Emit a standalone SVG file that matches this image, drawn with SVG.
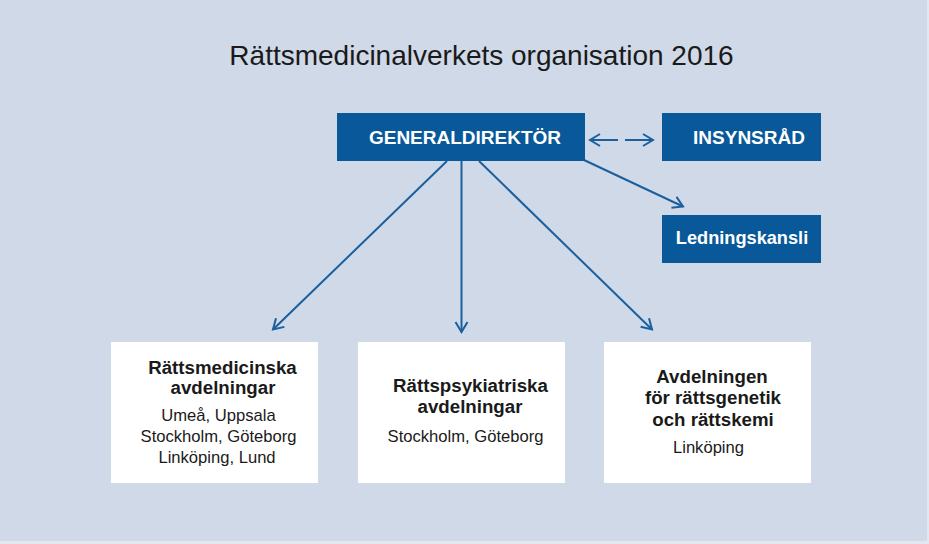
<svg xmlns="http://www.w3.org/2000/svg" width="929" height="544" viewBox="0 0 929 544">
<style>
.bg{fill:#cfd9e8}
.dark{fill:#08589a}
.white{fill:#ffffff}
.hd{font-family:"Liberation Sans",Arial,sans-serif;font-weight:bold;font-size:19px;fill:#ffffff;text-anchor:middle}
.bt{font-family:"Liberation Sans",Arial,sans-serif;font-weight:bold;font-size:18.7px;fill:#1a1a1a;text-anchor:middle}
.rt{font-family:"Liberation Sans",Arial,sans-serif;font-size:16.6px;fill:#1a1a1a;text-anchor:middle}
.title{font-family:"Liberation Sans",Arial,sans-serif;font-size:28px;fill:#1a1a1a;text-anchor:middle}
.conn{stroke:#1a5f9e;stroke-width:2;fill:none}
</style>
<defs>
<marker id="arr" viewBox="-12 -8 14 16" markerWidth="14" markerHeight="16" refX="0" refY="0" orient="auto-start-reverse" markerUnits="userSpaceOnUse">
<path d="M-10,-6 L0,0 L-10,6" fill="none" stroke="#1a5f9e" stroke-width="2"/>
</marker>
</defs>
<rect x="0" y="0" width="929" height="544" fill="#e3e8f0"/>
<rect class="bg" x="0" y="0" width="927" height="541"/>
<text class="title" x="481.5" y="65">Rättsmedicinalverkets organisation 2016</text>

<g id="connectors">
<line class="conn" x1="590" y1="140" x2="653" y2="140" stroke-dasharray="28 7" marker-start="url(#arr)" marker-end="url(#arr)"/>
<line class="conn" x1="584" y1="160" x2="683" y2="206.5" marker-end="url(#arr)"/>
<line class="conn" x1="447" y1="161" x2="273" y2="329.5" marker-end="url(#arr)"/>
<line class="conn" x1="461.5" y1="161" x2="461.5" y2="332" marker-end="url(#arr)"/>
<line class="conn" x1="479" y1="161" x2="652" y2="329.5" marker-end="url(#arr)"/>
</g>

<g id="generaldirektor">
<rect class="dark" x="337" y="113" width="248" height="48"/>
<text class="hd" x="465" y="144">GENERALDIREKTÖR</text>
</g>
<g id="insynsrad">
<rect class="dark" x="662" y="113" width="159" height="48"/>
<text class="hd" x="749" y="143.5">INSYNSRÅD</text>
</g>
<g id="ledningskansli">
<rect class="dark" x="662" y="215" width="159" height="48"/>
<text class="hd" x="742" y="243.5" style="font-size:18.2px">Ledningskansli</text>
</g>

<g id="rattsmedicinska">
<rect class="white" x="111" y="342" width="207" height="141"/>
<text class="bt" x="222.5" y="374">Rättsmedicinska</text>
<text class="bt" x="223" y="394">avdelningar</text>
<text class="rt" x="218.5" y="421">Umeå, Uppsala</text>
<text class="rt" x="218.5" y="442">Stockholm, Göteborg</text>
<text class="rt" x="217" y="463">Linköping, Lund</text>
</g>
<g id="rattspsykiatriska">
<rect class="white" x="358" y="342" width="207" height="141"/>
<text class="bt" x="470.5" y="392">Rättspsykiatriska</text>
<text class="bt" x="470" y="413">avdelningar</text>
<text class="rt" x="465.5" y="442">Stockholm, Göteborg</text>
</g>
<g id="rattsgenetik">
<rect class="white" x="604" y="342" width="207" height="141"/>
<text class="bt" x="712" y="383">Avdelningen</text>
<text class="bt" x="713" y="404">för rättsgenetik</text>
<text class="bt" x="713" y="426">och rättskemi</text>
<text class="rt" x="708.5" y="453">Linköping</text>
</g>
</svg>
